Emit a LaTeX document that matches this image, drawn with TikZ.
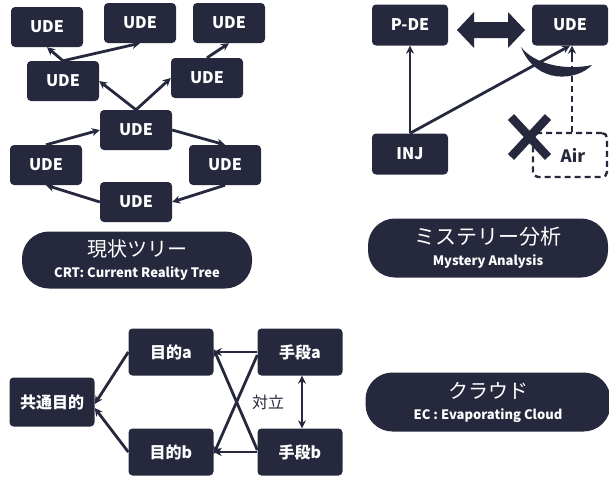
\documentclass[tikz,border=0pt]{standalone}
\usepackage{fontspec}
\setmainfont{Noto Sans CJK JP}
\usetikzlibrary{arrows.meta, positioning, calc}
\definecolor{navy}{RGB}{38,41,61}

\tikzset{
  box/.style={draw=none, fill=navy, text=white, rounded corners=4pt, minimum width=72pt, minimum height=40pt, inner sep=0pt, font=\bfseries\fontsize{16}{16}\selectfont},
  ecbox/.style={box, minimum width=85pt, minimum height=47pt},
  pill/.style={fill=navy, text=white, rounded corners=27pt, minimum height=57pt, inner sep=0pt, align=center, font=\fontsize{20}{23}\selectfont},
  conn/.style={navy, line width=2.8pt, -{Stealth[length=8pt, width=8pt]}},
}

\begin{document}
\begin{tikzpicture}[x=1pt, y=-1pt]
  \useasboundingbox (0,0) rectangle (609,477);

  % current reality tree
  \node[box] (ta) at (47,27) {UDE};
  \node[box] (tb) at (140,23) {UDE};
  \node[box] (tc) at (229,23) {UDE};
  \node[box] (ma) at (63,81) {UDE};
  \node[box] (mb) at (207,78) {UDE};
  \node[box] (c) at (136,130) {UDE};
  \node[box] (la) at (46,165) {UDE};
  \node[box] (lb) at (225,165) {UDE};
  \node[box] (bt) at (136,202) {UDE};

  \draw[conn] (c.north) -- (ma.east);
  \draw[conn] (c.north) -- (mb.west);
  \draw[conn] (ma.north) -- (ta.south);
  \draw[conn] (ma.north) -- (tb.south);
  \draw[conn] (mb.north) -- (tc.south);
  \draw[conn] (la.north) -- (c.west);
  \draw[conn] (c.east) -- (lb.north);
  \draw[conn] (lb.south) -- (bt.east);
  \draw[conn] (bt.west) -- (la.south);

  \node[pill, minimum width=230pt] (crt) at (137,260) {現状ツリー\\[-2pt]{\bfseries\fontsize{13}{14}\selectfont CRT: Current Reality Tree}};

  % mystery analysis
  \node[box, minimum width=76pt, minimum height=41pt] (pde) at (410,25) {P-DE};
  \node[box, minimum width=76pt, minimum height=41pt] (ude) at (570,25) {UDE};
  \node[box, minimum width=76pt, minimum height=41pt] (inj) at (410,154) {INJ};
  \node[draw=navy, dash pattern=on 6pt off 4pt, line width=2.4pt, rounded corners=5pt, minimum width=74pt, minimum height=44pt, text=navy, font=\bfseries\fontsize{17}{17}\selectfont] (air) at (570,155) {\hspace{6pt}Air};

  \fill[navy] (457,30) -- (474,12) -- (474,22) -- (508,22) -- (508,12) -- (525,30)
    -- (508,48) -- (508,38) -- (474,38) -- (474,48) -- cycle;
  \fill[navy] (521,47) .. controls (534,64) and (565,71) .. (592,65)
    .. controls (577,81) and (536,85) .. (521,47) -- cycle;

  \draw[conn] (inj.north) -- (pde.south);
  \draw[conn] (inj.north) -- (ude.south);
  \coordinate (airtop) at ([xshift=2pt]air.north);
  \draw[navy, line width=2.8pt, dash pattern=on 6pt off 4pt] (airtop) -- ([yshift=-10pt]airtop |- ude.south);
  \draw[conn] ([yshift=-10pt]airtop |- ude.south) -- (airtop |- ude.south);

  \draw[navy, line width=8.5pt] (511,117) -- (548,157);
  \draw[navy, line width=8.5pt] (511,157) -- (548,117);

  \node[pill, minimum width=240pt, minimum height=59pt] (mys) at (488,248) {{\fontsize{21}{23}\selectfont ミステリー分析}\\[-2pt]{\bfseries\fontsize{13}{14}\selectfont Mystery Analysis}};

  % evaporating cloud
  \node[ecbox, minimum height=49pt] (kyo) at (52,402) {共通目的};
  \node[ecbox] (pa) at (171,352) {目的a};
  \node[ecbox] (pb) at (171,452) {目的b};
  \node[ecbox] (sa) at (300,352) {手段a};
  \node[ecbox] (sb) at (300,452) {手段b};

  \draw[conn] (pa.west) -- ([yshift=-2pt]kyo.east);
  \draw[conn] (pb.west) -- ([yshift=-6pt]kyo.east);
  \draw[conn] (sa.west) -- (pa.east);
  \draw[conn] (sb.west) -- (pb.east);
  \draw[conn] ([yshift=-3pt]sa.west) -- ([yshift=-2pt]pb.east);
  \draw[conn] ([yshift=2pt]sb.west) -- ([yshift=3pt]pa.east);
  \draw[navy, line width=2.8pt, {Stealth[length=8pt, width=8pt]}-{Stealth[length=8pt, width=8pt]}] ([xshift=2pt]sa.south) -- ([xshift=2pt]sb.north);
  \node[text=navy, font=\fontsize{16}{16}\selectfont] (tai) at (268,402) {対立};

  \node[pill, minimum width=245pt, minimum height=59pt] (ec) at (488,402) {クラウド\\[-2pt]{\bfseries\fontsize{13}{14}\selectfont EC : Evaporating Cloud}};
\end{tikzpicture}
\end{document}
